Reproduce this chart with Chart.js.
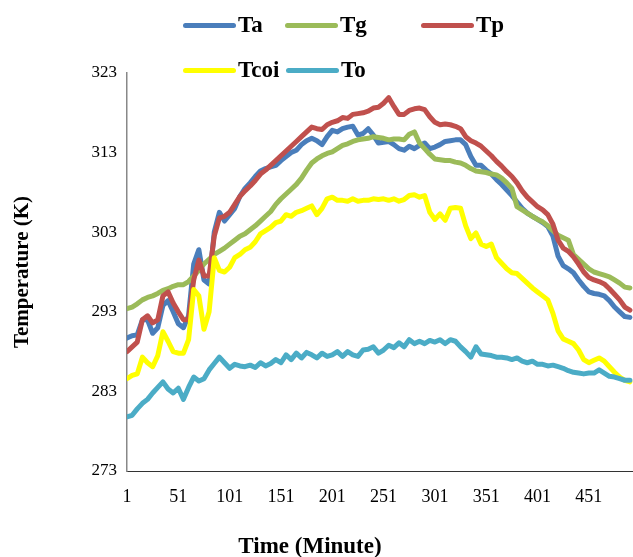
<!DOCTYPE html>
<html><head><meta charset="utf-8">
<script src="https://cdn.jsdelivr.net/npm/chart.js@4.4.0/dist/chart.umd.min.js"></script>
<style>
html,body{margin:0;padding:0;background:#fff;}
#wrap{position:relative;width:633px;height:557px;overflow:hidden;}
canvas{position:absolute;left:0;top:0;}
.lg{position:absolute;font:bold 23px "Liberation Serif","Times New Roman",serif;color:#000;display:flex;align-items:center;height:24px;line-height:24px;white-space:nowrap;}
.lg .ln{display:inline-block;width:53px;height:5px;border-radius:3px;margin-right:2px;}
#xt{position:absolute;left:310px;top:533px;height:24px;line-height:24px;transform:translateX(-50%);font:bold 23px "Liberation Serif","Times New Roman",serif;white-space:nowrap;}
</style></head>
<body>
<div id="wrap">
<canvas id="c" width="633" height="557"></canvas>
<div id="xt">Time (Minute)</div>
</div>
<script>
const minutes = [1,6,11,16,21,26,31,36,41,46,51,56,61,66,71,76,81,86,91,96,101,106,111,116,121,126,131,136,141,146,151,156,161,166,171,176,181,186,191,196,201,206,211,216,221,226,231,236,241,246,251,256,261,266,271,276,281,286,291,296,301,306,311,316,321,326,331,336,341,346,351,356,361,366,371,376,381,386,391,396,401,406,411,416,421,426,431,436,441,446,451,456,461,466,471,476,481,486,491];

const Ta = [289.7,290.0,290.1,292.0,292.0,290.3,291.0,293.8,294.4,293.0,
291.5,291.0,292.5,299.0,300.8,297.0,296.5,303.0,305.5,304.4,
305.2,306.0,307.5,308.5,309.2,310.0,310.7,311.0,311.2,311.4,
312.0,312.5,313.0,313.3,314.0,314.5,314.8,314.5,314.0,315.0,
315.8,315.6,316.0,316.2,316.3,315.2,315.4,316.0,315.2,314.2,
314.3,314.4,314.0,313.5,313.3,313.8,313.5,313.9,314.2,313.5,
313.7,314.0,314.4,314.5,314.6,314.6,314.0,312.5,311.4,311.4,
310.8,310.3,309.6,309.0,308.3,307.6,306.8,306.0,305.4,305.0,
304.6,304.2,303.7,302.5,300.0,298.8,298.4,297.9,297.0,296.2,
295.5,295.3,295.2,295.0,294.4,293.6,293.0,292.4,292.3];

const Tg = [293.4,293.6,294.0,294.5,294.8,295.0,295.3,295.7,295.9,296.2,
296.4,296.4,296.8,297.5,298.2,299.0,299.6,300.2,300.6,301.0,
301.5,302.0,302.5,302.8,303.3,303.8,304.4,305.0,305.6,306.5,
307.2,307.8,308.4,309.0,309.8,310.8,311.7,312.2,312.6,312.9,
313.1,313.5,313.9,314.1,314.4,314.6,314.7,314.8,315.0,314.9,
314.8,314.6,314.7,314.7,314.6,315.3,315.6,314.2,313.5,312.8,
312.2,312.1,312.0,312.0,311.8,311.7,311.4,311.0,310.7,310.6,
310.5,310.3,310.2,309.8,309.2,308.5,306.2,305.8,305.4,305.0,
304.6,304.3,303.8,303.2,302.6,302.3,302.0,300.2,299.6,299.0,
298.4,298.0,297.8,297.6,297.4,297.0,296.6,296.1,296.0];

const Tp = [288.0,288.6,289.2,292.0,292.5,291.6,292.0,295.0,295.5,294.1,
293.0,292.0,292.0,297.0,299.5,297.5,297.5,302.5,304.8,305.0,
305.5,306.5,307.5,308.2,308.8,309.5,310.3,310.8,311.4,312.0,
312.6,313.2,313.8,314.4,315.0,315.6,316.2,316.0,315.9,316.5,
316.8,317.0,317.4,317.3,317.8,317.9,318.0,318.2,318.6,318.7,
319.2,319.9,318.8,317.8,317.8,318.3,318.5,318.6,318.4,317.5,
316.8,316.5,316.6,316.5,316.3,316.0,315.0,314.5,314.2,313.8,
313.2,312.6,311.9,311.3,310.6,310.0,309.2,308.2,307.4,306.8,
306.2,305.8,305.2,304.0,302.0,301.0,300.6,299.9,299.0,298.0,
297.3,297.0,296.8,296.5,295.9,295.2,294.5,293.6,293.2];

const Tcoi = [284.6,285.0,285.2,287.3,286.6,286.1,287.5,290.5,289.3,288.0,
287.8,287.8,289.5,295.8,295.0,290.8,293.0,299.8,298.2,298.0,
298.6,299.8,300.2,300.8,301.1,301.8,302.8,303.2,303.6,304.2,
304.4,305.2,305.0,305.5,305.7,306.0,306.3,305.2,306.0,307.2,
307.4,307.0,307.0,306.9,307.2,306.9,307.0,307.0,307.2,307.1,
307.2,307.0,307.2,306.9,307.1,307.6,307.7,307.4,307.6,305.5,
304.6,305.3,304.5,306.0,306.1,306.0,303.8,302.2,302.9,301.5,
301.2,301.5,299.8,299.1,298.4,297.9,297.8,297.2,296.6,296.0,
295.5,295.0,294.5,292.8,290.6,289.6,289.3,289.0,288.2,287.0,
286.6,286.9,287.2,286.8,286.1,285.4,284.8,284.4,284.2];

const To = [279.8,280.0,280.8,281.5,282.0,282.8,283.5,284.2,283.3,282.8,
283.4,282.0,283.5,284.8,284.3,284.6,285.7,286.5,287.3,286.6,
285.9,286.4,286.2,286.1,286.3,286.0,286.6,286.2,286.5,287.0,
286.6,287.6,287.0,287.8,287.2,287.9,287.6,287.2,287.8,287.4,
287.6,288.0,287.4,288.0,287.6,287.4,288.2,288.3,288.6,287.8,
288.2,288.8,288.5,289.1,288.6,289.5,289.0,289.3,289.0,289.4,
289.2,289.5,289.0,289.5,289.3,288.6,288.0,287.3,288.6,287.7,
287.6,287.5,287.3,287.3,287.2,287.0,287.2,286.8,286.6,286.8,
286.4,286.4,286.2,286.3,286.1,285.9,285.6,285.4,285.3,285.2,
285.3,285.3,285.7,285.3,284.9,284.8,284.6,284.4,284.4];

const xTickLabels = [1,51,101,151,201,251,301,351,401,451];
const yTickLabels = [273,283,293,303,313,323];
const seriesNames = ['Ta','Tg','Tp','Tcoi','To'];
const seriesValues = [Ta,Tg,Tp,Tcoi,To];
const seriesColors = ['#4a7ebb','#9bbb59','#c0504d','#ffff00','#4bacc6'];

// legend (HTML)
const legendPos = [[183,13],[285,13],[421,13],[183,58],[286,58]];
const wrap = document.getElementById('wrap');
seriesNames.forEach((n,i)=>{
  const d = document.createElement('div');
  d.className='lg';
  d.style.left = legendPos[i][0]+'px';
  d.style.top = legendPos[i][1]+'px';
  d.innerHTML = '<span class="ln" style="background:'+seriesColors[i]+'"></span>'+n;
  wrap.appendChild(d);
});

const serif = '"Liberation Serif","Times New Roman",serif';
const datasets = seriesNames.map((n,i)=>({
  label:n,
  data: minutes.map((m,j)=>({x:m,y:seriesValues[i][j]})),
  borderColor: seriesColors[i],
  backgroundColor: seriesColors[i],
  borderWidth: 5,
  pointRadius: 0,
  tension: 0,
  borderJoinStyle:'round',
  borderCapStyle:'round',
  fill:false,
  order: 5-i
}));

new Chart(document.getElementById('c'),{
  type:'line',
  data:{datasets},
  options:{
    responsive:false,
    animation:false,
    layout:{padding:{top:73,left:0,right:0,bottom:0}},
    plugins:{legend:{display:false},tooltip:{enabled:false}},
    scales:{
      x:{
        type:'linear', min:1, max:494,
        afterBuildTicks:(s)=>{ s.ticks = xTickLabels.map(v=>({value:v})); },
        afterFit:(s)=>{ s.height = 86; },
        grid:{display:false, drawTicks:false},
        border:{display:true,color:'#333',width:1,dash:[2,1]},
        ticks:{color:'#000',font:{family:serif,size:18},padding:15,maxRotation:0,autoSkip:false,callback:(v)=>String(v)}
      },
      y:{
        type:'linear', min:273, max:323,
        afterBuildTicks:(s)=>{ s.ticks = yTickLabels.map(v=>({value:v})); },
        afterFit:(s)=>{ s.width = 127; },
        grid:{display:false, drawTicks:false},
        border:{display:true,color:'#888',width:1.5},
        ticks:{color:'#000',font:{family:serif,size:17},padding:10,callback:(v)=>String(v)},
        title:{display:true,text:'Temperature (K)',color:'#000',font:{family:serif,size:21,weight:'bold',lineHeight:1},padding:{top:12,bottom:0}}
      }
    }
  }
});
</script>
</body></html>
